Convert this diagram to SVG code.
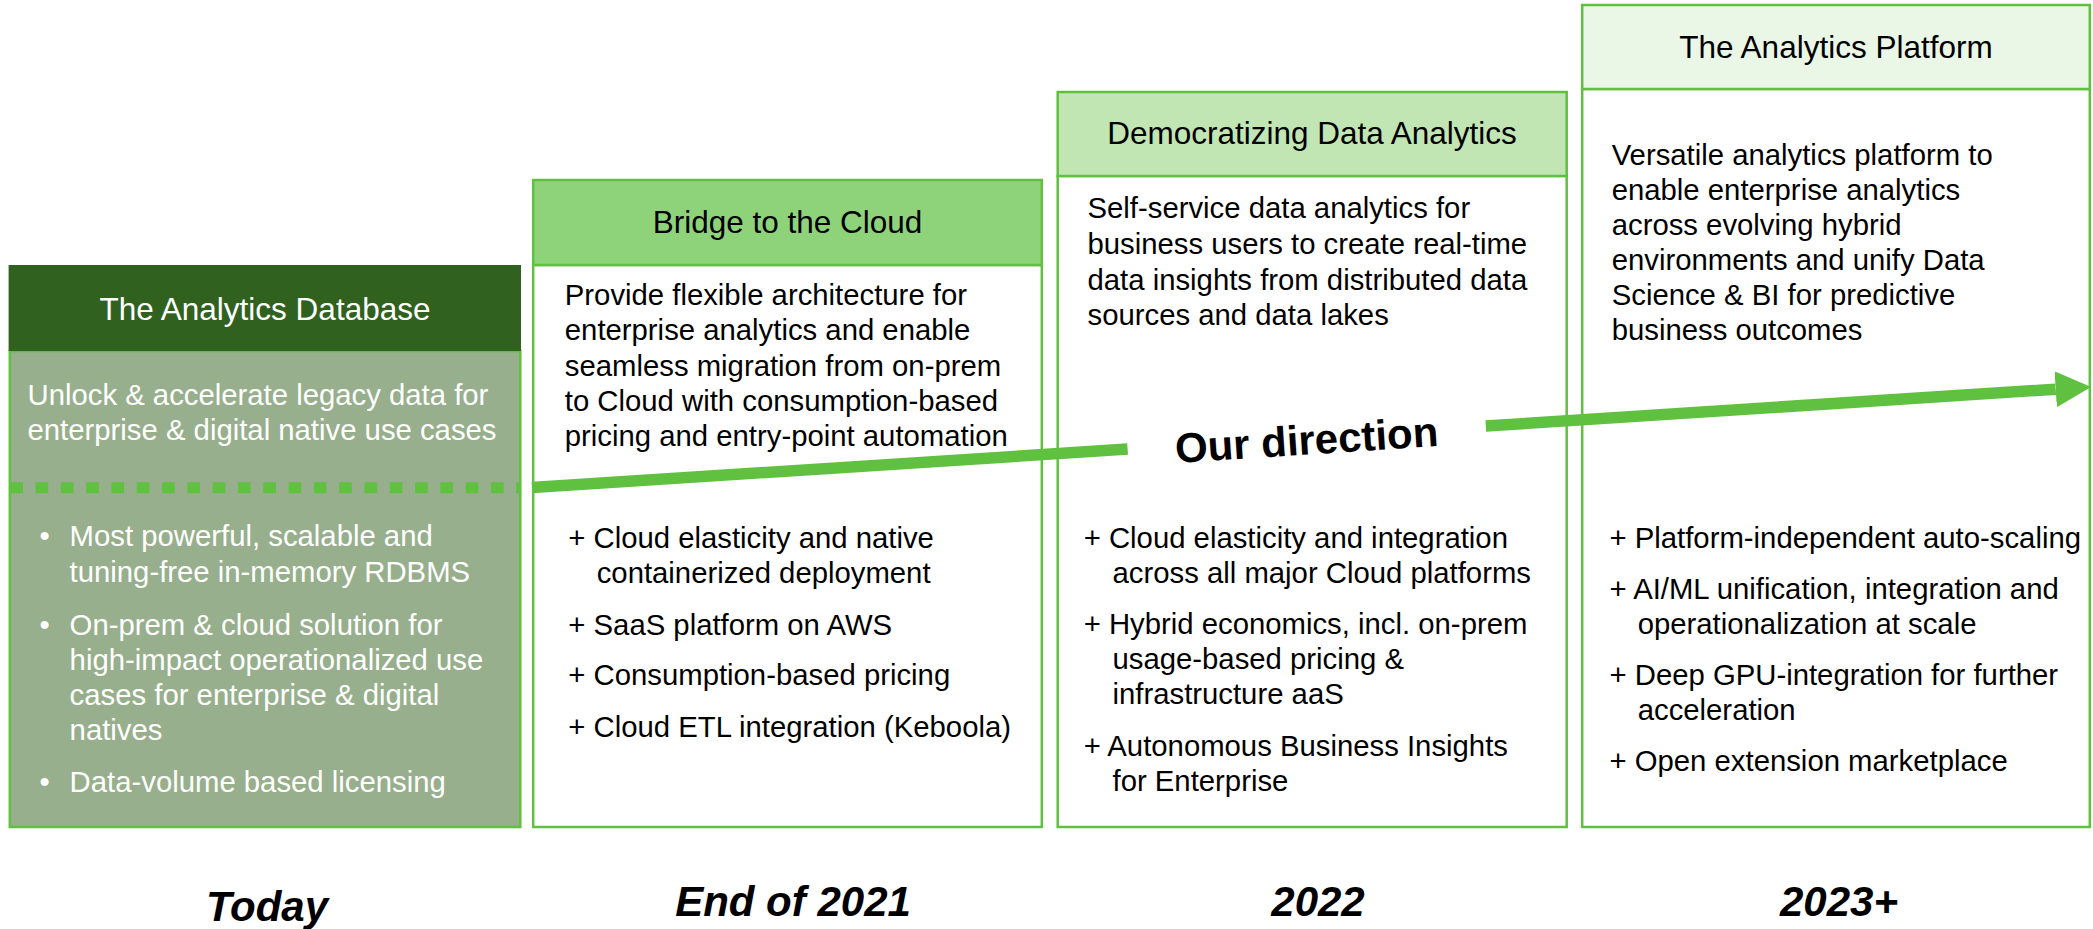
<svg xmlns="http://www.w3.org/2000/svg" width="2093" height="929" viewBox="0 0 2093 929">
<defs>
<style>
text{font-family:"Liberation Sans",Arial,sans-serif}
.hd{font-size:31.5px;text-anchor:middle;fill:#000}
.bd{font-size:29.3px;fill:#000}
.wt{fill:#ffffff}
.box{stroke:#60C040;stroke-width:2.5}
.date{font-size:42px;font-weight:bold;font-style:italic;text-anchor:middle;fill:#000}
.dir{font-size:42px;font-weight:bold;text-anchor:middle;fill:#000}
.arrow{fill:none;stroke:#60C040;stroke-width:11.5}
</style>
<marker id="ah" markerUnits="userSpaceOnUse" markerWidth="36" markerHeight="36" viewBox="0 0 36 36" refX="0" refY="18" orient="auto">
<path d="M0,0 L35.5,18 L0,36 Z" fill="#60C040"/>
</marker>
</defs>
<rect width="2093" height="929" fill="#ffffff"/>

<g id="box-today">
<rect class="box" x="9.8" y="351" width="510.5" height="476" fill="#97AF8C"/>
<rect x="8.6" y="265" width="512.4" height="86" fill="#30611F"/>
<text class="hd wt" x="265" y="320">The Analytics Database</text>
<text class="bd wt" x="27.5" y="405">Unlock &amp; accelerate legacy data for</text>
<text class="bd wt" x="27.5" y="440">enterprise &amp; digital native use cases</text>
<g class="bd wt">
<text x="39.6" y="546">•</text><text x="69.6" y="546">Most powerful, scalable and</text>
<text x="69.6" y="582">tuning-free in-memory RDBMS</text>
<text x="39.6" y="635">•</text><text x="69.6" y="635">On-prem &amp; cloud solution for</text>
<text x="69.6" y="670">high-impact operationalized use</text>
<text x="69.6" y="705">cases for enterprise &amp; digital</text>
<text x="69.6" y="740">natives</text>
<text x="39.6" y="792">•</text><text x="69.6" y="792">Data-volume based licensing</text>
</g>
</g>

<g id="box-2021">
<rect class="box" x="533.2" y="265" width="508.6" height="562" fill="#ffffff"/>
<rect class="box" x="533.2" y="180" width="508.6" height="85" fill="#8ED37A"/>
<text class="hd" x="787.5" y="233">Bridge to the Cloud</text>
<g class="bd">
<text x="564.8" y="305">Provide flexible architecture for</text>
<text x="564.8" y="340">enterprise analytics and enable</text>
<text x="564.8" y="376">seamless migration from on-prem</text>
<text x="564.8" y="411">to Cloud with consumption-based</text>
<text x="564.8" y="446">pricing and entry-point automation</text>
<text x="568.3" y="548">+ Cloud elasticity and native</text>
<text x="596.7" y="583">containerized deployment</text>
<text x="568.3" y="635">+ SaaS platform on AWS</text>
<text x="568.3" y="685">+ Consumption-based pricing</text>
<text x="568.3" y="736.5">+ Cloud ETL integration (Keboola)</text>
</g>
</g>

<g id="box-2022">
<rect class="box" x="1057.7" y="176" width="509" height="651" fill="#ffffff"/>
<rect class="box" x="1057.7" y="92" width="509" height="84" fill="#C1E6B4"/>
<text class="hd" x="1312" y="144">Democratizing Data Analytics</text>
<g class="bd">
<text x="1087.5" y="218">Self-service data analytics for</text>
<text x="1087.5" y="254">business users to create real-time</text>
<text x="1087.5" y="290">data insights from distributed data</text>
<text x="1087.5" y="325">sources and data lakes</text>
<text x="1083.7" y="548">+ Cloud elasticity and integration</text>
<text x="1112.5" y="583">across all major Cloud platforms</text>
<text x="1083.7" y="634">+ Hybrid economics, incl. on-prem</text>
<text x="1112.5" y="669">usage-based pricing &amp;</text>
<text x="1112.5" y="704">infrastructure aaS</text>
<text x="1083.7" y="756">+ Autonomous Business Insights</text>
<text x="1112.5" y="791">for Enterprise</text>
</g>
</g>

<g id="box-2023">
<rect class="box" x="1582.2" y="89" width="507.6" height="738" fill="#ffffff"/>
<rect class="box" x="1582.2" y="5" width="507.6" height="84" fill="#EBF7E6"/>
<text class="hd" x="1836" y="58">The Analytics Platform</text>
<g class="bd">
<text x="1611.7" y="165">Versatile analytics platform to</text>
<text x="1611.7" y="200">enable enterprise analytics</text>
<text x="1611.7" y="235">across evolving hybrid</text>
<text x="1611.7" y="270">environments and unify Data</text>
<text x="1611.7" y="305">Science &amp; BI for predictive</text>
<text x="1611.7" y="340">business outcomes</text>
<text x="1609.5" y="548">+ Platform-independent auto-scaling</text>
<text x="1609.5" y="599">+ AI/ML unification, integration and</text>
<text x="1637.7" y="634">operationalization at scale</text>
<text x="1609.5" y="685">+ Deep GPU-integration for further</text>
<text x="1637.7" y="720">acceleration</text>
<text x="1609.5" y="771">+ Open extension marketplace</text>
</g>
</g>

<g id="connectors">
<line x1="10.3" y1="487.7" x2="520" y2="487.7" stroke="#60C040" stroke-width="11" stroke-dasharray="12.6 12.7"/>
<path class="arrow" d="M532,487.5 L1127.6,449.1"/>
<path class="arrow" d="M1485.8,426 L2055.7,389.2" marker-end="url(#ah)"/>
</g>

<g id="label-direction">
<text class="dir" transform="translate(1306.5,439.5) rotate(-3.7)" x="0" y="15">Our direction</text>
</g>

<g id="dates">
<text class="date" x="267" y="921">Today</text>
<text class="date" x="793" y="916">End of 2021</text>
<text class="date" x="1318" y="916">2022</text>
<text class="date" x="1839" y="916">2023+</text>
</g>
</svg>
